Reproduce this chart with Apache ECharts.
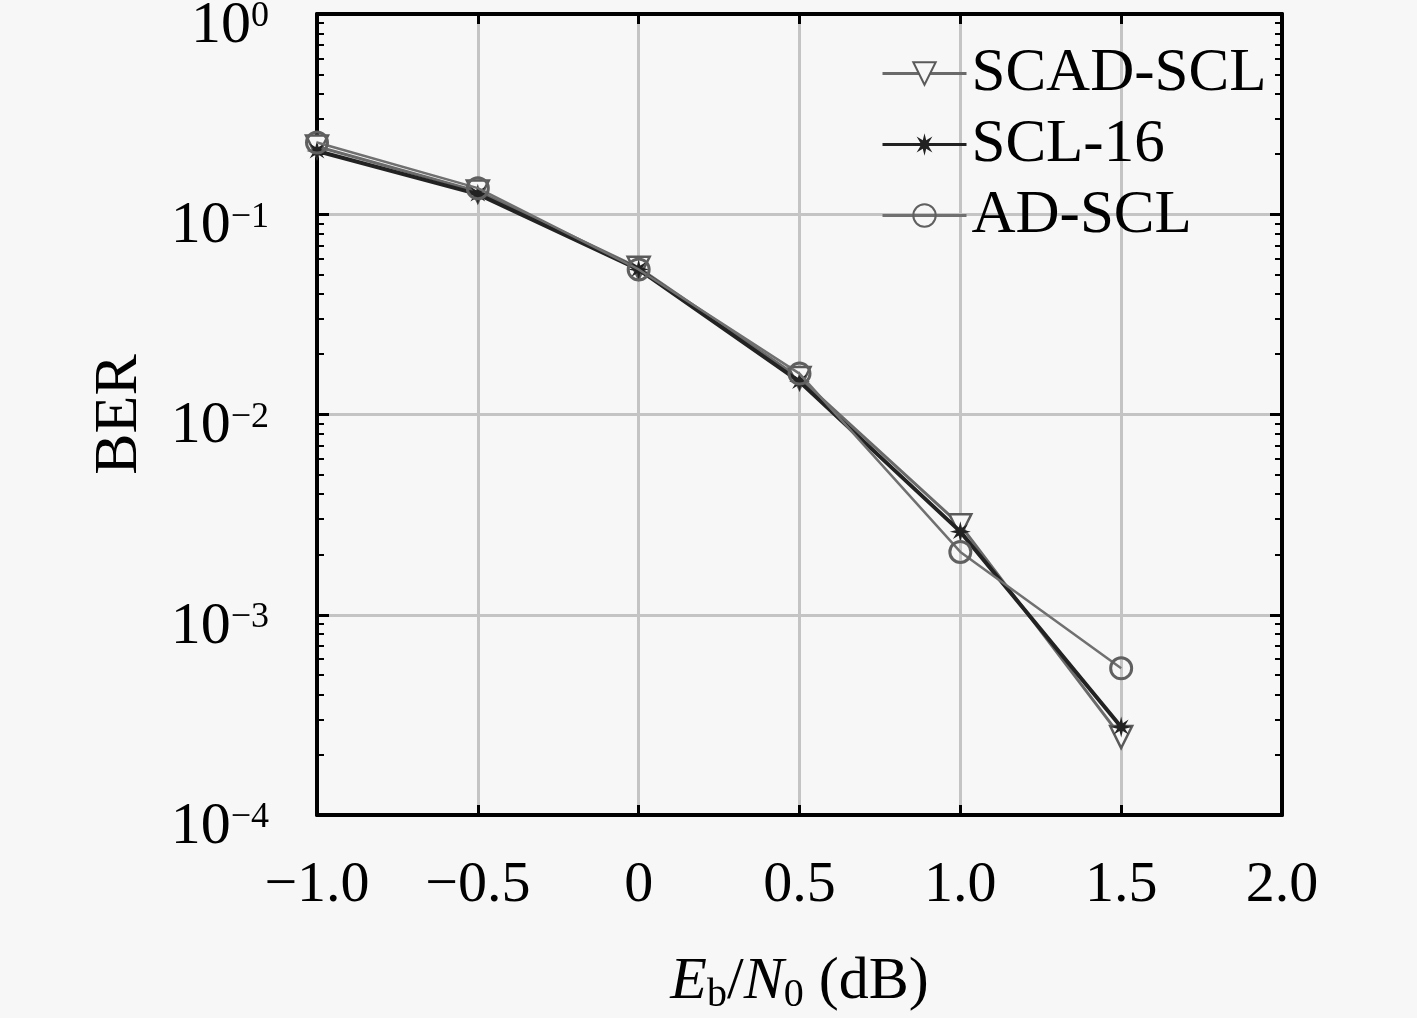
<!DOCTYPE html>
<html>
<head>
<meta charset="utf-8">
<script src="https://cdn.jsdelivr.net/npm/echarts@6/dist/echarts.min.js"></script>
<style>
  html, body { margin: 0; padding: 0; background: #f7f7f7; }
  #main { width: 1417px; height: 1018px; }
</style>
</head>
<body>
<div id="main"></div>
<script>
// 横轴 Eb/N0 (dB)
const snr = [-1.0, -0.5, 0, 0.5, 1.0, 1.5]
// 三条曲线的误码率
const scadScl = [0.218, 0.130, 0.054, 0.0152, 0.0028, 0.000245]
const scl16 = [0.207, 0.126, 0.053, 0.0146, 0.0026, 0.000275]
const adScl = [0.228, 0.135, 0.053, 0.0160, 0.00206, 0.00054]
// 刻度
const xTicks = [-1.0, -0.5, 0, 0.5, 1.0, 1.5, 2.0]
const yTicks = [1e-4, 1e-3, 1e-2, 1e-1, 1]
const yMinor = []
for (let e = -4; e < 0; e++) {
    for (let m = 2; m <= 9; m++) yMinor.push(+(m * Math.pow(10, e)).toPrecision(3))
}

const font = 'Liberation Serif'
const bg = '#f7f7f7'

// 星号标记
function starPath(n, r1, r2) {
    let d = ''
    for (let i = 0; i < n * 2; i++) {
        const r = i % 2 ? r2 : r1
        const a = Math.PI * i / n - Math.PI / 2
        d += (i ? 'L' : 'M') + (r * Math.cos(a)).toFixed(2) + ' ' + (r * Math.sin(a)).toFixed(2)
    }
    return 'path://' + d + 'Z'
}

function pairs(ys) {
    return snr.map((x, i) => [x, ys[i]])
}

const myChart = echarts.init(document.getElementById('main'))

const minorAxis = pos => ({
    type: 'log', position: pos, min: 1e-4, max: 1,
    axisLine: { show: false, onZero: false },
    axisTick: { show: true, inside: true, length: 7, lineStyle: { color: '#000', width: 2 }, customValues: yMinor },
    axisLabel: { show: false },
    splitLine: { show: false }
})

const option = {
    backgroundColor: bg,
    animation: false,
    grid: { left: 317, right: 135, top: 14, bottom: 203, outerBoundsMode: 'none', containLabel: false },
    legend: {
        orient: 'vertical', left: 876, top: 38,
        itemWidth: 84, itemHeight: 28, itemGap: 10,
        lineStyle: { width: 3 },
        textStyle: { fontFamily: font, fontSize: 61, color: '#000' },
        data: ['SCAD-SCL', 'SCL-16', 'AD-SCL']
    },
    xAxis: [{
        type: 'value', min: -1, max: 2, interval: 0.5,
        name: '{i|E}{sub|b}{n|/}{i|N}{sub|0}{n| (dB)}',
        nameLocation: 'middle', nameGap: 134,
        nameTextStyle: {
            rich: {
                i: { fontFamily: font, fontSize: 60, fontStyle: 'italic', color: '#000' },
                n: { fontFamily: font, fontSize: 60, color: '#000' },
                sub: { fontFamily: font, fontSize: 40, color: '#000', padding: [26, 0, 0, 0] }
            }
        },
        axisLine: { onZero: false, lineStyle: { color: '#000', width: 4 } },
        axisTick: { inside: true, length: 10, lineStyle: { color: '#000', width: 3 } },
        axisLabel: {
            margin: 42, fontFamily: font, fontSize: 58, color: '#000',
            customValues: xTicks,
            formatter: v => v === 0 ? '0' : v.toFixed(1).replace('-', '\u2212')
        },
        splitLine: { show: true, lineStyle: { color: '#c4c4c4', width: 3 } }
    }, {
        type: 'value', position: 'top', min: -1, max: 2, interval: 0.5,
        axisLine: { onZero: false, lineStyle: { color: '#000', width: 4 } },
        axisTick: { inside: true, length: 10, lineStyle: { color: '#000', width: 3 } },
        axisLabel: { show: false },
        splitLine: { show: false }
    }],
    yAxis: [{
        type: 'log', min: 1e-4, max: 1, logBase: 10,
        name: 'BER', nameLocation: 'middle', nameGap: 166,
        nameTextStyle: { fontFamily: font, fontSize: 62, color: '#000' },
        axisLine: { onZero: false, lineStyle: { color: '#000', width: 4 } },
        axisTick: { inside: true, length: 12, lineStyle: { color: '#000', width: 3 }, customValues: yTicks },
        axisLabel: {
            margin: 48,
            padding: [24, 0, 0, 0],
            customValues: yTicks,
            formatter: v => {
                const e = Math.round(Math.log10(v))
                return '{b|10}{s|' + (e < 0 ? '\u2212' + (-e) : e) + '}'
            },
            rich: {
                b: { fontFamily: font, fontSize: 60, color: '#000' },
                s: { fontFamily: font, fontSize: 36, color: '#000', padding: [0, 0, 18, 0] }
            }
        },
        splitLine: { show: true, lineStyle: { color: '#c4c4c4', width: 3 } }
    }, {
        type: 'log', position: 'right', min: 1e-4, max: 1, logBase: 10,
        axisLine: { onZero: false, lineStyle: { color: '#000', width: 4 } },
        axisTick: { inside: true, length: 12, lineStyle: { color: '#000', width: 3 }, customValues: yTicks },
        axisLabel: { show: false },
        splitLine: { show: false }
    }, minorAxis('left'), minorAxis('right')],
    series: [{
        name: 'SCAD-SCL', type: 'line', data: pairs(scadScl),
        symbol: 'triangle', symbolRotate: 180, symbolSize: 22,
        lineStyle: { color: '#6a6a6a', width: 3 },
        itemStyle: { color: bg, borderColor: '#5a5a5a', borderWidth: 2.5 },
        z: 3
    }, {
        name: 'SCL-16', type: 'line', data: pairs(scl16),
        symbol: starPath(8, 10, 4), symbolSize: 21,
        lineStyle: { color: '#222', width: 4 },
        itemStyle: { color: '#222' },
        z: 4
    }, {
        name: 'AD-SCL', type: 'line', data: pairs(adScl),
        symbol: 'circle', symbolSize: 21,
        lineStyle: { color: '#707070', width: 2.5 },
        itemStyle: { color: 'rgba(0,0,0,0)', borderColor: '#606060', borderWidth: 3 },
        z: 5
    }]
}

myChart.setOption(option)
</script>
</body>
</html>
